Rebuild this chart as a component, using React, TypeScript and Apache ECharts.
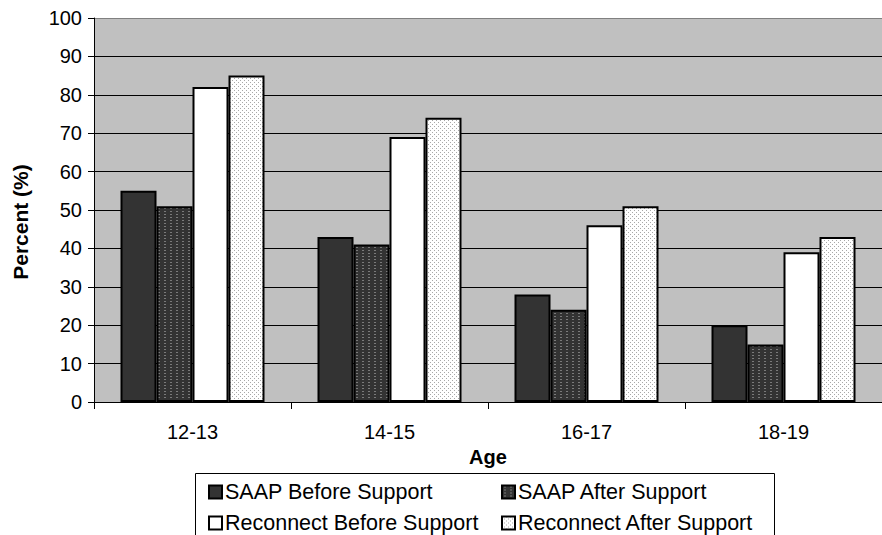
import React, { useEffect, useRef } from "react";
import * as echarts from "echarts";

const ageGroups = ["12-13", "14-15", "16-17", "18-19"];
const saapBefore = [55, 43, 28, 20];
const saapAfter = [51, 41, 24, 15];
const reconnectBefore = [82, 69, 46, 39];
const reconnectAfter = [85, 74, 51, 43];
const seriesNames = [
  "SAAP Before Support",
  "SAAP After Support",
  "Reconnect Before Support",
  "Reconnect After Support",
];

const FONT = "Arial, 'Liberation Sans', sans-serif";

// Small tiled bitmaps used as fill patterns for the dotted bars
function makeTile(
  w: number,
  h: number,
  bg: string,
  dot: string,
  dots: Array<[number, number, number, number]>
) {
  const c = document.createElement("canvas");
  c.width = w;
  c.height = h;
  const ctx = c.getContext("2d")!;
  ctx.fillStyle = bg;
  ctx.fillRect(0, 0, w, h);
  ctx.fillStyle = dot;
  dots.forEach(([x, y, dw, dh]) => ctx.fillRect(x, y, dw, dh));
  return {
    image: c.toDataURL(),
    imageWidth: w,
    imageHeight: h,
    repeat: "repeat" as const,
  };
}

export default function App() {
  const ref = useRef<HTMLDivElement>(null);

  useEffect(() => {
    if (!ref.current) return;
    const chart = echarts.init(ref.current, null, { renderer: "svg" });

    const darkDots = makeTile(6, 3, "#333333", "#7a7a7a", [[2, 1, 2, 1]]);
    const lightDots = makeTile(4, 4, "#ffffff", "#a8a8a8", [
      [0, 0, 1, 1],
      [2, 2, 1, 1],
    ]);

    const fills: any[] = ["#333333", darkDots, "#ffffff", lightDots];
    const values = [saapBefore, saapAfter, reconnectBefore, reconnectAfter];

    const gridColors = [
      "#000", "#000", "#000", "#000", "#000", "#000",
      "#000", "#000", "#000", "#000", "#808080",
    ];

    // one legend per entry so the two columns line up
    const legendSlots = [
      { left: 208, top: 481 },
      { left: 501, top: 481 },
      { left: 208, top: 512 },
      { left: 501, top: 512 },
    ];
    const legends = seriesNames.map((name, i) => ({
      data: [name],
      left: legendSlots[i].left,
      top: legendSlots[i].top,
      padding: 0,
      itemWidth: 13,
      itemHeight: 13,
      icon: "rect",
      selectedMode: false,
      textStyle: { fontFamily: FONT, fontSize: 21.5, color: "#000", padding: [0, 0, 0, -2] },
    }));

    chart.setOption({
      animation: false,
      textStyle: { fontFamily: FONT },
      grid: {
        left: 94,
        top: 18,
        right: -8,
        bottom: 133,
        show: true,
        backgroundColor: "#C0C0C0",
        borderWidth: 0,
      },
      legend: legends,
      graphic: [
        {
          type: "rect",
          shape: { x: 195.5, y: 473.5, width: 579, height: 100 },
          style: { fill: "none", stroke: "#000", lineWidth: 1 },
          silent: true,
          z: 0,
        },
        {
          type: "text",
          x: 20,
          y: 222,
          rotation: Math.PI / 2,
          style: {
            text: "Percent (%)",
            fontFamily: FONT,
            fontSize: 21,
            fontWeight: "bold",
            fill: "#000",
            align: "center",
            verticalAlign: "middle",
          },
          silent: true,
        },
      ],
      xAxis: {
        type: "category",
        data: ageGroups,
        name: "Age",
        nameLocation: "middle",
        nameGap: 34,
        nameTextStyle: {
          fontFamily: FONT,
          fontSize: 20,
          fontWeight: "bold",
          color: "#000",
        },
        axisLine: { lineStyle: { color: "#000", width: 1 } },
        axisTick: { show: true, length: 7, lineStyle: { color: "#000" } },
        axisLabel: { fontFamily: FONT, fontSize: 20, color: "#000", margin: 20 },
        splitLine: { show: false },
      },
      yAxis: {
        type: "value",
        min: 0,
        max: 100,
        interval: 10,
        axisLine: { show: true, lineStyle: { color: "#000", width: 1 } },
        axisTick: { show: true, length: 6, lineStyle: { color: "#000" } },
        axisLabel: { fontFamily: FONT, fontSize: 20, color: "#000", margin: 12 },
        splitLine: { show: true, lineStyle: { color: gridColors, width: 1 } },
      },
      series: seriesNames.map((name, i) => ({
        name,
        type: "bar",
        data: values[i],
        barWidth: 36,
        barGap: "0%",
        itemStyle: {
          color: fills[i],
          borderColor: "#000",
          borderWidth: 2,
        },
      })),
    });

    return () => chart.dispose();
  }, []);

  return (
    <div
      ref={ref}
      style={{ position: "absolute", left: 0, top: 0, width: 882, height: 535 }}
    />
  );
}
